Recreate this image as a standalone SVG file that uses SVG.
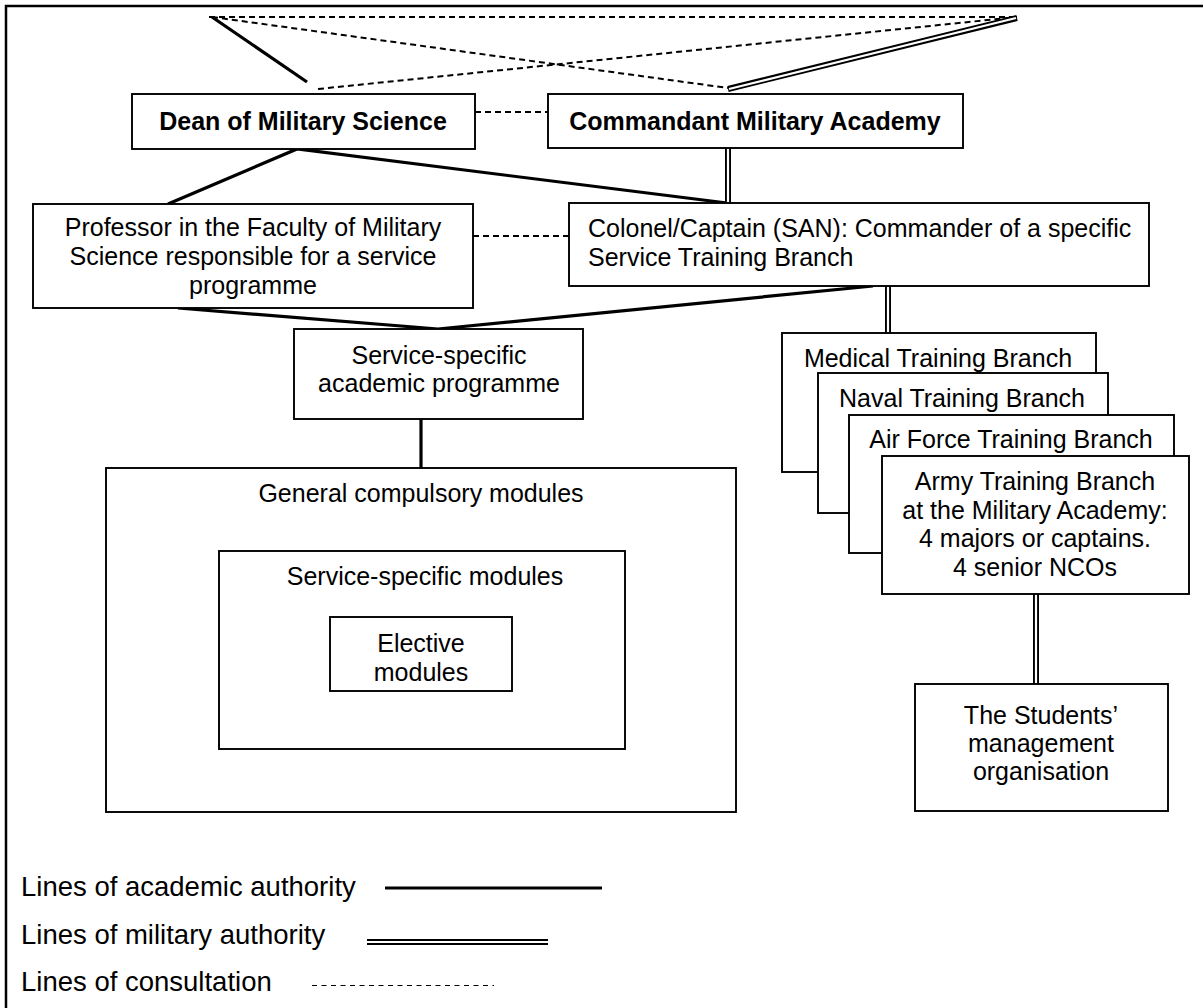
<svg xmlns="http://www.w3.org/2000/svg" width="1203" height="1008" viewBox="0 0 1203 1008">
  <style>
    .box { fill: #ffffff; stroke: #000000; stroke-width: 1.9; }
    .t { font-family: "Liberation Sans", Arial, sans-serif; font-size: 25px; fill: #000000; }
    .c { text-anchor: middle; }
    .b { font-weight: bold; }
    .lg { font-size: 27.5px; }
    .academic { stroke: #000000; stroke-width: 3.2; fill: none; }
    .mil-outer { stroke: #000000; stroke-width: 6; fill: none; }
    .mil-inner { stroke: #ffffff; stroke-width: 2.2; fill: none; }
    .consult { stroke: #000000; stroke-width: 2; stroke-dasharray: 6 4; fill: none; }
    .consult-key { stroke: #000000; stroke-width: 1; stroke-dasharray: 5 4.5; fill: none; }
    .frame { stroke: #000000; stroke-width: 2.5; fill: none; }
  </style>

  <rect x="0" y="0" width="1203" height="1008" fill="#ffffff"/>

  <!-- page frame (top and left edges) -->
  <path class="frame" d="M6 1008 V6 H1203"/>

  <!-- connectors -->
  <g id="connectors">
    <!-- consultation lines -->
    <line class="consult" x1="209" y1="17" x2="1017" y2="17"/>
    <line class="consult" x1="212" y1="17" x2="728" y2="88"/>
    <line class="consult" x1="318" y1="89" x2="1017" y2="17"/>
    <line class="consult" x1="475" y1="112" x2="548" y2="112"/>
    <line class="consult" x1="473" y1="236" x2="569" y2="236"/>

    <!-- academic authority -->
    <line class="academic" x1="212" y1="17" x2="307" y2="82"/>
    <polyline class="academic" points="168,204 297,149 727,203"/>
    <polyline class="academic" points="178,308 438,329 873,286"/>
    <line class="academic" x1="421" y1="419" x2="421" y2="468"/>

    <!-- military authority (double lines) -->
    <g>
      <line class="mil-outer" x1="728" y1="89" x2="1017" y2="18"/>
      <line class="mil-inner" x1="729" y1="89" x2="1016" y2="18"/>
      <line class="mil-outer" x1="728" y1="148" x2="728" y2="203"/>
      <line class="mil-inner" x1="728" y1="147" x2="728" y2="204"/>
      <line class="mil-outer" x1="888" y1="286" x2="888" y2="333"/>
      <line class="mil-inner" x1="888" y1="285" x2="888" y2="334"/>
      <line class="mil-outer" x1="1036" y1="594" x2="1036" y2="684"/>
      <line class="mil-inner" x1="1036" y1="593" x2="1036" y2="685"/>
    </g>
  </g>

  <!-- nodes -->
  <g id="dean">
    <rect class="box" x="132" y="94" width="343" height="55"/>
    <text class="t c b" x="303" y="130">Dean of Military Science</text>
  </g>

  <g id="commandant">
    <rect class="box" x="548" y="94" width="415" height="54"/>
    <text class="t c b" x="755" y="130">Commandant Military Academy</text>
  </g>

  <g id="professor">
    <rect class="box" x="33" y="204" width="440" height="104"/>
    <text class="t c" x="253" y="236">Professor in the Faculty of Military</text>
    <text class="t c" x="253" y="265">Science responsible for a service</text>
    <text class="t c" x="253" y="294">programme</text>
  </g>

  <g id="colonel">
    <rect class="box" x="569" y="203" width="580" height="83"/>
    <text class="t" x="588" y="237">Colonel/Captain (SAN): Commander of a specific</text>
    <text class="t" x="588" y="266">Service Training Branch</text>
  </g>

  <g id="programme">
    <rect class="box" x="294" y="329" width="289" height="90"/>
    <text class="t c" x="439" y="364">Service-specific</text>
    <text class="t c" x="439" y="392">academic programme</text>
  </g>

  <g id="general-modules">
    <rect class="box" x="106" y="468" width="630" height="344"/>
    <text class="t c" x="421" y="502">General compulsory modules</text>
  </g>

  <g id="service-modules">
    <rect class="box" x="219" y="551" width="406" height="198"/>
    <text class="t c" x="425" y="585">Service-specific modules</text>
  </g>

  <g id="elective-modules">
    <rect class="box" x="330" y="617" width="182" height="74"/>
    <text class="t c" x="421" y="652">Elective</text>
    <text class="t c" x="421" y="681">modules</text>
  </g>

  <g id="medical">
    <rect class="box" x="782" y="333" width="314" height="139"/>
    <text class="t c" x="938" y="367">Medical Training Branch</text>
  </g>

  <g id="naval">
    <rect class="box" x="818" y="373" width="290" height="140"/>
    <text class="t c" x="962" y="407">Naval Training Branch</text>
  </g>

  <g id="air-force">
    <rect class="box" x="849" y="415" width="325" height="138"/>
    <text class="t c" x="1011" y="448">Air Force Training Branch</text>
  </g>

  <g id="army">
    <rect class="box" x="882" y="456" width="307" height="138"/>
    <text class="t c" x="1035" y="490">Army Training Branch</text>
    <text class="t c" x="1035" y="519">at the Military Academy:</text>
    <text class="t c" x="1035" y="547">4 majors or captains.</text>
    <text class="t c" x="1035" y="576">4 senior NCOs</text>
  </g>

  <g id="students">
    <rect class="box" x="915" y="684" width="253" height="127"/>
    <text class="t c" x="1041" y="724">The Students’</text>
    <text class="t c" x="1041" y="752">management</text>
    <text class="t c" x="1041" y="780">organisation</text>
  </g>

  <!-- key -->
  <g id="legend">
    <text class="t lg" x="21" y="896">Lines of academic authority</text>
    <line class="academic" x1="385" y1="888" x2="602" y2="888"/>
    <text class="t lg" x="21" y="944">Lines of military authority</text>
    <line class="mil-outer" x1="367" y1="942" x2="548" y2="942"/>
    <line class="mil-inner" x1="366" y1="942" x2="549" y2="942"/>
    <text class="t lg" x="21" y="991">Lines of consultation</text>
    <line class="consult-key" x1="312" y1="985.5" x2="494" y2="985.5"/>
  </g>
</svg>
